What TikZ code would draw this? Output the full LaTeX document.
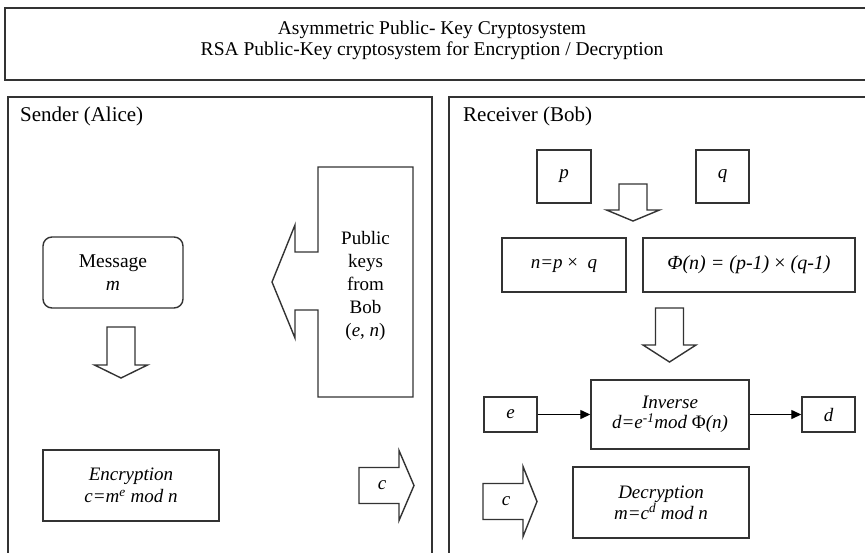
\documentclass[tikz,border=0pt]{standalone}
\usepackage{fontspec}
\setmainfont{Liberation Serif}
\usetikzlibrary{arrows.meta}

% hollow block arrow pointing down: centre x, top y, head base y, tip y
\newcommand\blockdown[4]{%
  \draw[blk] (#1-14,#2) -- (#1+14,#2) -- (#1+14,#3) -- (#1+26.5,#3)
    -- (#1,#4) -- (#1-26.5,#3) -- (#1-14,#3) -- cycle;}
% hollow block arrow pointing right: tail x, centre y, head base x, tip x
\newcommand\blockright[4]{%
  \draw[blk] (#1,#2-18) -- (#3,#2-18) -- (#3,#2-35) -- (#4,#2)
    -- (#3,#2+35) -- (#3,#2+18) -- (#1,#2+18) -- cycle;}

\begin{document}
\begin{tikzpicture}[x=1pt,y=-1pt,
  frame/.style={draw=black!80,line width=1.6pt},
  blk/.style={draw=black!80,line width=1.4pt,line join=miter},
  box/.style={draw=black!80,line width=1.4pt,inner sep=0pt,align=center,
    font=\fontsize{19}{22}\selectfont\itshape},
  plain/.style={inner sep=0pt,align=center,font=\fontsize{19}{23}\selectfont},
  head/.style={inner sep=0pt,anchor=west,font=\fontsize{21}{24}\selectfont},
  conn/.style={draw=black,line width=1.3pt,-{Triangle[length=10pt,width=9pt]}}]
\useasboundingbox (0,0) rectangle (865,552);

% title band and the two panels
\draw[frame] (866,8) -- (5,8) -- (5,80) -- (866,80);
\node[plain,font=\fontsize{19.5}{21}\selectfont] (title) at (432,40)
  {Asymmetric Public- Key Cryptosystem\\
   RSA Public-Key cryptosystem for Encryption / Decryption};
\draw[frame] (8,553) -- (8,97) -- (432,97) -- (432,553);
\draw[frame] (449,553) -- (449,97) -- (866,97);
\node[head] (sender) at (20,116) {Sender (Alice)};
\node[head] (receiver) at (463,116) {Receiver (Bob)};

% sender side
\node[box,rounded corners=9pt,minimum width=140pt,minimum height=71pt,
  font=\fontsize{19.5}{23}\selectfont] (msg) at (113,272.5)
  {Message\\\textit{m}};
\blockdown{121}{327}{365}{378}
\node[box,minimum width=176pt,minimum height=71pt] (enc) at (131,485.5)
  {Encryption\\c=m\textsuperscript{e} mod n};
\draw[blk] (318,167) -- (413,167) -- (413,397) -- (318,397) -- (318,310)
  -- (295,310) -- (295,338) -- (272,282) -- (295,225) -- (295,252)
  -- (318,252) -- cycle;
\node[plain] (pub) at (365.5,286)
  {Public\\keys\\from\\Bob\\(\textit{e}, \textit{n})};
\blockright{359}{485.5}{399}{414}
\node[plain,font=\fontsize{19}{23}\selectfont\itshape] (cout) at (382,485) {c};

% receiver side
\node[box,minimum width=54pt,minimum height=53pt] (p) at (564,176.5) {p};
\node[box,minimum width=53pt,minimum height=53pt] (q) at (722.5,176.5) {q};
\blockdown{633}{184}{210}{221}
\node[box,minimum width=124pt,minimum height=54pt] (n) at (564,265)
  {n=p {\upshape×}\ \ q};
\node[box,minimum width=212pt,minimum height=54pt,
  font=\fontsize{20}{22}\selectfont\itshape] (phi) at (749,265)
  {Φ(n) = (p-1) {\upshape×} (q-1)};
\blockdown{669.5}{308}{345}{362}
\node[box,minimum width=158pt,minimum height=69pt,
  font=\fontsize{19}{20}\selectfont\itshape] (inv) at (670,414.5)
  {Inverse\\d=e\textsuperscript{-1}mod {\upshape Φ}(n)};
\node[box,minimum width=53pt,minimum height=35pt] (e) at (510.5,414.5) {e};
\node[box,minimum width=53pt,minimum height=35pt] (d) at (828.5,414.5) {d};
\draw[conn] (e) -- (inv);
\draw[conn] (inv) -- (d);
\blockright{483}{501.5}{523}{537}
\node[plain,font=\fontsize{19}{23}\selectfont\itshape] (cin) at (506,501) {c};
\node[box,minimum width=176pt,minimum height=71pt,
  font=\fontsize{19}{21}\selectfont\itshape] (dec) at (661,502.5)
  {Decryption\\m=c\textsuperscript{d} mod n};
\end{tikzpicture}
\end{document}
